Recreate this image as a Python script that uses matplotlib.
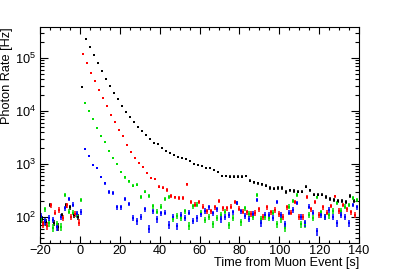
import numpy as np
import matplotlib
matplotlib.use("Agg")
import matplotlib.pyplot as plt
from matplotlib.ticker import MultipleLocator, LogLocator, NullFormatter

plt.rcParams['font.family'] = ['Liberation Sans', 'DejaVu Sans']

# photon rates [Hz] per 2 s bin
black_t0 = -18.7
black_rate = [90, 80, 168, 77, 65, 107, 165, 150, 107, 100,
              2.84e4, 2.31e5, 1.61e5, 1.12e5, 7.9e4, 5.6e4, 4.06e4, 3.0e4, 2.2e4, 1.66e4,
              1.26e4, 9.7e3, 7.6e3, 6.1e3, 5.06e3, 4.25e3, 3.47e3, 2.95e3, 2.5e3, 2.4e3,
              2.0e3, 1.78e3, 1.61e3, 1.48e3, 1.34e3, 1.28e3, 1.23e3, 1.12e3, 1.01e3, 957,
              905, 841, 841, 780, 706, 594, 594, 576, 576, 576,
              576, 594, 484, 451, 432, 414, 385, 352, 342, 352,
              352, 292, 319, 309, 300, 300, 373, 319, 263, 263,
              263, 241, 216, 207, 200, 200, 189, 249, 200]

red_t0 = -18.2
red_rate = [72, 68, 165, 120, 135, 95, 165, 100, 115, 78,
            1.19e5, 7.9e4, 5.3e4, 3.67e4, 2.5e4, 1.77e4, 1.24e4, 8.5e3, 6.1e3, 4.4e3,
            3.37e3, 2.32e3, 1.71e3, 1.28e3, 1.06e3, 860, 663, 537, 515, 373,
            355, 320, 249, 232, 225, 225, 414, 190, 170, 194,
            156, 126, 126, 150, 203, 145, 145, 156, 190, 142,
            125, 123, 115, 119, 140, 100, 150, 121, 135, 115,
            100, 152, 120, 189, 101, 101, 235, 140, 194, 110,
            150, 120, 160, 242, 130, 168, 140, 121, 109]

green_t0 = -19.2
green_rate = [90, 140, 75, 62, 72, 65, 260, 125, 120, 110, 205,
              1.43e4, 1.0e4, 6.9e3, 4.8e3, 3.4e3, 2.54e3, 1.78e3, 1.29e3, 982, 700,
              555, 465, 388, 404, 237, 300, 245, 158, 125, 156,
              215, 240, 92, 105, 95, 128, 68, 158, 170, 120,
              87, 100, 73, 95, 110, 125, 70, 97, 185, 79,
              146, 114, 100, 260, 90, 100, 97, 120, 73, 90,
              61, 156, 200, 260, 73, 73, 110, 95, 232, 123,
              101, 106, 130, 181, 130, 156, 168, 225, 209]

blue_t0 = -19.2
blue_rate = [104, 82, 95, 88, 65, 100, 145, 220, 170, 115, 124,
             1940, 1410, 954, 852, 560, 432, 296, 280, 150, 150,
             216, 174, 95, 82, 101, 140, 59, 126, 90, 117,
             120, 71, 100, 66, 110, 95, 120, 85, 94, 112,
             130, 150, 117, 140, 90, 100, 110, 121, 181, 126,
             105, 92, 115, 209, 76, 110, 109, 95, 194, 110,
             73, 120, 135, 181, 100, 76, 156, 120, 53, 110,
             101, 135, 100, 76, 109, 100, 76, 168, 150]

bin_width = 2.0
live_time = 0.6  # s per bin, sets the Poisson error bars

series = [
    (black_t0, black_rate, 'black'),
    (red_t0, red_rate, '#ff0000'),
    (green_t0, green_rate, '#00dd00'),
    (blue_t0, blue_rate, '#0000ff'),
]

fig = plt.figure(figsize=(3.99, 2.70), dpi=100, facecolor='white')
ax = fig.add_axes([0.1, 0.1, 0.8, 0.8])

for t0, rate, col in series:
    rate = np.array(rate, dtype=float)
    t = t0 + bin_width * np.arange(len(rate))
    err = np.sqrt(rate / live_time)
    ax.errorbar(t, rate, yerr=err, fmt='s', color=col, ms=1.8, mew=0,
                elinewidth=1.1, capsize=1.3, capthick=0.8)

ax.set_yscale('log')
ax.set_xlim(-20, 140)
ax.set_ylim(32, 3.85e5)

ax.xaxis.set_major_locator(MultipleLocator(20))
ax.xaxis.set_minor_locator(MultipleLocator(5))
ax.yaxis.set_major_locator(LogLocator(base=10))
ax.yaxis.set_minor_locator(LogLocator(base=10, subs=np.arange(2, 10)))
ax.yaxis.set_minor_formatter(NullFormatter())

ax.tick_params(which='both', direction='in', top=True, right=True, width=0.8,
               labelsize=9.2)
ax.tick_params(axis='x', which='major', length=4.7, pad=1.5)
ax.tick_params(axis='x', which='minor', length=2.4)
ax.tick_params(axis='y', which='major', length=5.7, pad=3)
ax.tick_params(axis='y', which='minor', length=2.9)
for sp in ax.spines.values():
    sp.set_linewidth(0.8)

ax.set_xlabel('Time from Muon Event [s]', fontsize=9.2, loc='right')
ax.set_ylabel('Photon Rate [Hz]', fontsize=9.2, loc='top')
ax.xaxis.set_label_coords(1.0, -0.065)
ax.yaxis.set_label_coords(-0.083, 1.0)

fig.savefig('out.png', dpi=100, facecolor='white')
